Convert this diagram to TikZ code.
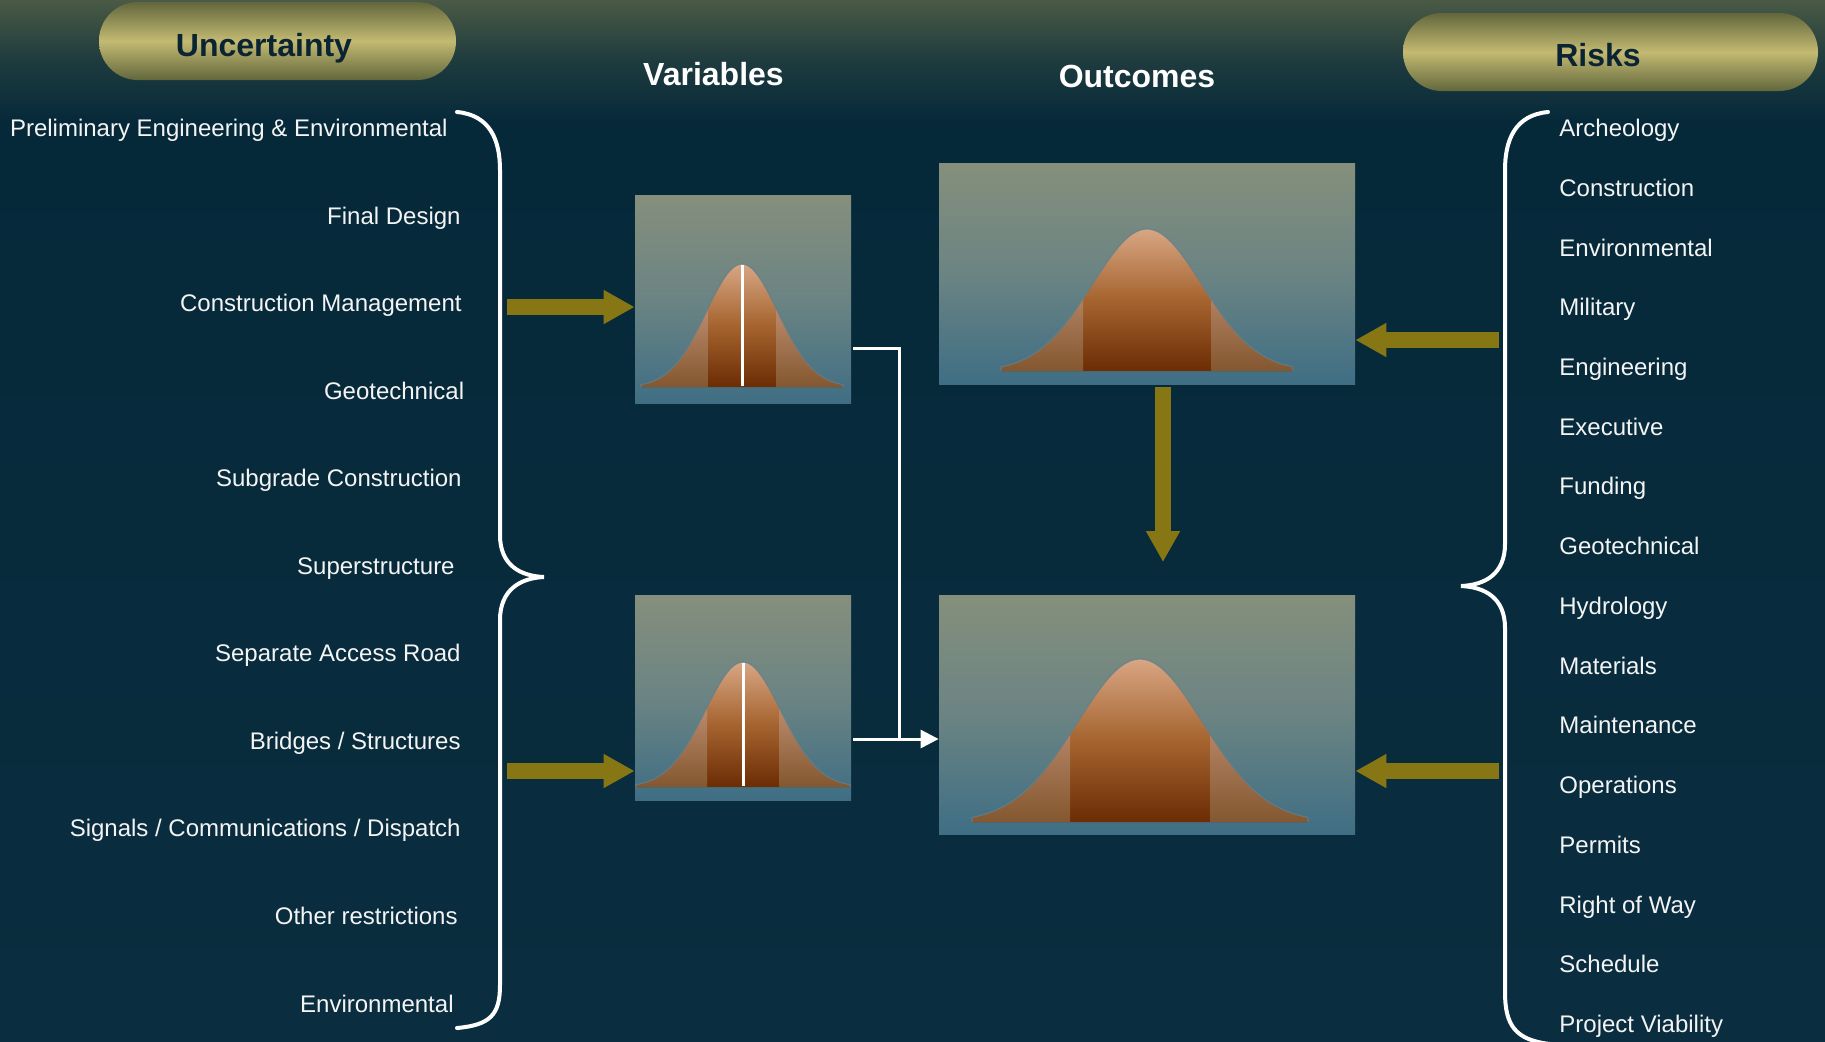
\documentclass[tikz,border=0pt]{standalone}
\usepackage{fontspec}
\setmainfont{Liberation Sans}
\usetikzlibrary{arrows.meta}
\definecolor{bg}{HTML}{06293A}
\definecolor{bgbot}{HTML}{0A2E3F}
\definecolor{bgtop}{HTML}{4A5A45}
\definecolor{bgmid}{HTML}{1E3B3E}
\definecolor{pillmid}{HTML}{C3BA72}
\definecolor{pilledge}{HTML}{62673C}
\definecolor{navy}{HTML}{0B2433}
\definecolor{olive}{HTML}{867714}
\definecolor{chtop}{HTML}{858F7C}
\definecolor{chmid}{HTML}{6B8483}
\definecolor{chbot}{HTML}{3F6E84}
\definecolor{bandtop}{HTML}{D8A684}
\definecolor{bandmid}{HTML}{A5642F}
\definecolor{bandbot}{HTML}{6C2C04}
\definecolor{tailtop}{HTML}{D4A688}
\definecolor{tailmid}{HTML}{B08060}
\definecolor{tailbot}{HTML}{83572F}
\definecolor{edgec}{HTML}{62808C}
\definecolor{txt}{HTML}{F4F4F4}

% cx, base y, height, half width, band half width, sigma
\newcommand\drawbell[6]{%
\begin{scope}
\clip (#1-#4,#2) -- plot[domain=-#4:#4,samples=90] ({#1+\x},{#2-#3*exp(-0.5*(\x/#6)*(\x/#6))}) -- (#1+#4,#2) -- cycle;
\shade[top color=bandtop, bottom color=bandbot, middle color=bandmid] (#1-#4,#2-#3) rectangle (#1+#4,#2);
\shade[top color=tailtop, bottom color=tailbot, middle color=tailmid] (#1-#4,#2-#3) rectangle (#1-#5,#2);
\shade[top color=tailtop, bottom color=tailbot, middle color=tailmid] (#1+#5,#2-#3) rectangle (#1+#4,#2);
\end{scope}
\draw[edgec, line width=0.6pt, opacity=0.8] (#1-#4,#2) -- plot[domain=-#4:#4,samples=90] ({#1+\x},{#2-#3*exp(-0.5*(\x/#6)*(\x/#6))}) -- (#1+#4,#2);
}

\begin{document}
\begin{tikzpicture}[x=0.5pt,y=-0.5pt,
  pill/.style={rectangle, rounded corners=19.4pt, inner sep=0pt, minimum width=178.5pt, minimum height=39pt,
     top color=pilledge, bottom color=pilledge, middle color=pillmid},
  pilltext/.style={text=navy, font=\bfseries\fontsize{16pt}{19pt}\selectfont, inner sep=0pt, anchor=base},
  title/.style={text=white, font=\bfseries\fontsize{16pt}{19pt}\selectfont, inner sep=0pt, anchor=base},
  lt/.style={text=txt, font=\fontsize{12pt}{14pt}\selectfont, inner sep=0pt, anchor=base east},
  rt/.style={text=txt, font=\fontsize{12pt}{14pt}\selectfont, inner sep=0pt, anchor=base west},
  chart/.style={rectangle, inner sep=0pt, top color=chtop, bottom color=chbot, middle color=chmid},
  oarrow/.style={draw=olive, line width=8pt, -{Triangle[length=15.5pt,width=16pt]}},
  wline/.style={draw=white, line width=1.5pt},
  brace/.style={draw=white, line width=2pt, line cap=round}
]
\useasboundingbox (0,0) rectangle (1825,1041);
\shade[top color=bg, bottom color=bgbot] (0,120) rectangle (1825,1041);
\shade[top color=bgtop, bottom color=bg, middle color=bgmid] (0,0) rectangle (1825,121);

% pills
\node[pill] (unc) at (277.5,41) {};
\node[pilltext] (unct) at (264,56) {Uncertainty};
\node[pill, minimum width=207.5pt] (risk) at (1610.5,52) {};
\node[pilltext] (riskt) at (1598,66) {Risks};

% titles
\node[title] (var) at (713.5,85) {Variables};
\node[title] (out) at (1137,87) {Outcomes};

% charts
\node[chart, minimum width=108pt, minimum height=104pt] (v1) at (743,299) {};
\node[chart, minimum width=108pt, minimum height=102.5pt] (v2) at (743,697.5) {};
\node[chart, minimum width=208pt, minimum height=110.5pt] (o1) at (1147,273.5) {};
\node[chart, minimum width=208pt, minimum height=119.5pt] (o2) at (1147,714.5) {};

\drawbell{742}{387}{123}{101}{34.5}{36}
\draw[white, line width=1.5pt] (742,265) -- (742,386);
\drawbell{743}{787}{125}{107}{36}{38}
\draw[white, line width=1.5pt] (743,663) -- (743,786);
\drawbell{1147}{371}{142}{146}{64}{55}
\drawbell{1140}{822}{163}{168}{70}{63}

% left list
\node[lt] (l1) at (448,136.5) {Preliminary Engineering \& Environmental};
\node[lt] (l2) at (461,224) {Final Design};
\node[lt] (l3) at (462,311.6) {Construction Management};
\node[lt] (l4) at (464.5,399.2) {Geotechnical};
\node[lt] (l5) at (462,486.7) {Subgrade Construction};
\node[lt] (l6) at (455,574.3) {Superstructure};
\node[lt] (l7) at (461,661.8) {Separate Access Road};
\node[lt] (l8) at (461,749.4) {Bridges / Structures};
\node[lt] (l9) at (461,836.9) {Signals / Communications / Dispatch};
\node[lt] (l10) at (458,924.5) {Other restrictions};
\node[lt] (l11) at (454,1012) {Environmental};

% right list
\node[rt] (r1) at (1559,136.5) {Archeology};
\node[rt] (r2) at (1559,196.2) {Construction};
\node[rt] (r3) at (1559,256.0) {Environmental};
\node[rt] (r4) at (1559,315.7) {Military};
\node[rt] (r5) at (1559,375.4) {Engineering};
\node[rt] (r6) at (1559,435.2) {Executive};
\node[rt] (r7) at (1559,494.9) {Funding};
\node[rt] (r8) at (1559,554.6) {Geotechnical};
\node[rt] (r9) at (1559,614.3) {Hydrology};
\node[rt] (r10) at (1559,674.1) {Materials};
\node[rt] (r11) at (1559,733.8) {Maintenance};
\node[rt] (r12) at (1559,793.5) {Operations};
\node[rt] (r13) at (1559,853.3) {Permits};
\node[rt] (r14) at (1559,913.0) {Right of Way};
\node[rt] (r15) at (1559,972.7) {Schedule};
\node[rt] (r16) at (1559,1032.5) {Project Viability};

% braces
\draw[brace] (457,112) .. controls (490,115) and (500,140) .. (500,170)
  -- (500,535) .. controls (500,565) and (520,576) .. (544,577)
  .. controls (520,578) and (500,590) .. (500,620)
  -- (500,985) .. controls (500,1015) and (490,1025) .. (457,1028);
\draw[brace] (1548,112) .. controls (1515,115) and (1505,140) .. (1505,170)
  -- (1505,544) .. controls (1505,574) and (1485,585) .. (1461,586)
  .. controls (1485,587) and (1505,598) .. (1505,628)
  -- (1505,992) .. controls (1505,1025) and (1515,1040) .. (1550,1044);

% olive arrows
\coordinate (la1) at (507,307);
\coordinate (la2) at (507,771);
\coordinate (ra1) at (1499,340);
\coordinate (ra2) at (1499,771);
\coordinate (vd) at (1163,562);
\draw[oarrow] (la1) -- (v1.west |- la1);
\draw[oarrow] (la2) -- (v2.west |- la2);
\draw[oarrow] (ra1) -- (o1.east |- ra1);
\draw[oarrow] (ra2) -- (o2.east |- ra2);
\draw[oarrow] ([yshift=-1.5pt]o1.south -| vd) -- (vd);

% white connector
\coordinate (wj) at (899,739);
\draw[wline] ([xshift=1pt,yshift=-24.5pt]v1.east) -| (wj);
\draw[wline, -{Triangle[length=9pt,width=9pt]}] ([xshift=1pt]v2.east |- wj) -- (o2.west |- wj);
\end{tikzpicture}
\end{document}
